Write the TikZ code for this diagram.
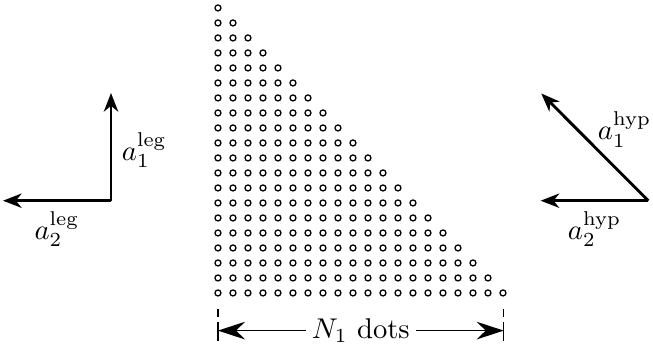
\documentclass[tikz,border=0pt]{standalone}
\usetikzlibrary{arrows.meta}
\tikzset{
  vec/.style={line width=1pt, -{Stealth[length=6.5pt, width=5pt, inset=2pt]}},
  dimarrow/.style={line width=0.5pt, -{Stealth[length=9.5pt, width=6.2pt, inset=3.2pt]}},
  dimtick/.style={line width=0.5pt, dash pattern=on 2.8pt off 1.8pt on 7pt},
}
\begin{document}
\begin{tikzpicture}[x=5.25pt, y=5.25pt]
  \useasboundingbox (-14.53,-3.93) rectangle (29.0,19.53);
  % triangle of dots, row r has 20-r dots
  \foreach \r in {0,...,19} {
    \pgfmathtruncatemacro{\last}{19-\r}
    \foreach \c in {0,...,\last}
      \draw[line width=0.45pt] (\c,\r) circle (1.05pt);
  }
  % width of the bottom row
  \coordinate (tickLtop) at (0,-1.07);
  \coordinate (tickLbot) at (0,-3.2);
  \coordinate (tickRtop) at (19.05,-1.07);
  \coordinate (tickRbot) at (19.05,-3.2);
  \draw[dimtick] (tickLtop) -- (tickLbot);
  \draw[dimtick] (tickRtop) -- (tickRbot);
  \node[inner sep=2pt] (width) at (9.52,-2.51) {$N_1$ dots};
  \draw[dimarrow] (width.west) -- (width.west -| tickLtop);
  \draw[dimarrow] (width.east) -- (width.east -| tickRtop);
  % leg vectors
  \coordinate (legO) at (-7.13,6.15);
  \coordinate (legA1) at (-7.13,13.33);
  \coordinate (legA2) at (-14.33,6.15);
  \draw[vec] (legO) -- (legA1) node[pos=0.47, right] (a1leg) {$a_1^{\mathrm{leg}}$};
  \draw[vec] (legO) -- (legA2) node[midway, below] (a2leg) {$a_2^{\mathrm{leg}}$};
  % hypotenuse vectors
  \coordinate (hypO) at (28.69,6.15);
  \coordinate (hypA1) at (21.55,13.3);
  \coordinate (hypA2) at (21.51,6.15);
  \draw[vec] (hypO) -- (hypA1);
  \draw[vec] (hypO) -- (hypA2) node[midway, below] (a2hyp) {$a_2^{\mathrm{hyp}}$};
  \node (a1hyp) at (27.1,10.9) {$a_1^{\mathrm{hyp}}$};
\end{tikzpicture}
\end{document}
